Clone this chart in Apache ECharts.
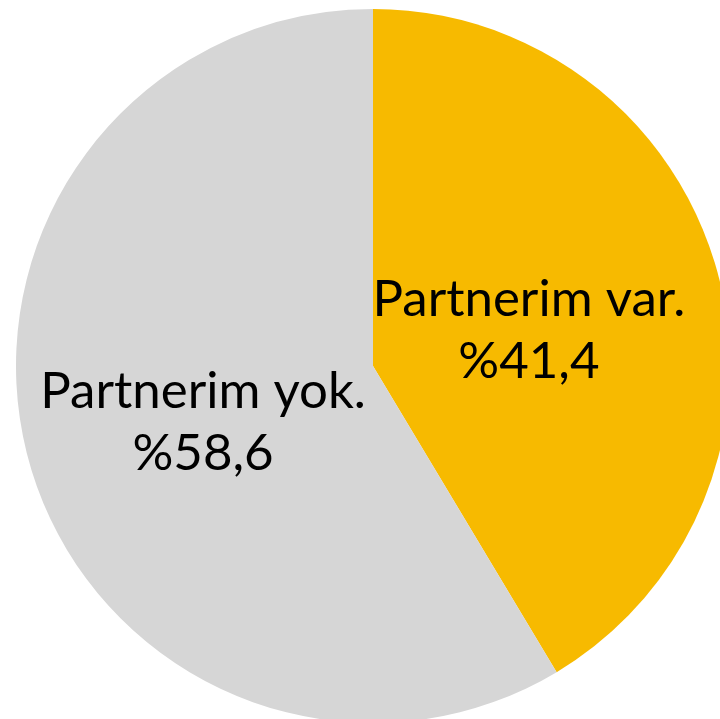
<!DOCTYPE html>
<html><head><meta charset="utf-8">
<script src="https://cdn.jsdelivr.net/npm/echarts@6/dist/echarts.min.js"></script>
<style>html,body{margin:0;padding:0;background:#fff}#c{width:720px;height:719px}</style>
</head><body><div id="c"></div>
<script>
const categories = ['Partnerim var.', 'Partnerim yok.'];
const values = [41.4, 58.6];
const colors = ['#F7BA00', '#D6D6D6'];
const labelOffsets = [[-19, 13], [5, 8]];

const chart = echarts.init(document.getElementById('c'), null, {renderer: 'canvas'});
chart.setOption({
  animation: false,
  series: [{
    type: 'pie',
    center: [373, 366],
    radius: 357,
    startAngle: 90,
    clockwise: true,
    silent: true,
    itemStyle: {borderWidth: 0},
    label: {
      position: 'inside',
      color: '#000',
      fontFamily: 'Lato',
      fontSize: 51,
      lineHeight: 62,
      align: 'center',
      formatter: p => p.name + '\n%' + String(p.value).replace('.', ',')
    },
    labelLine: {show: false},
    data: categories.map((n, i) => ({name: n, value: values[i], itemStyle: {color: colors[i]}, label: {offset: labelOffsets[i]}}))
  }]
});
</script></body></html>
